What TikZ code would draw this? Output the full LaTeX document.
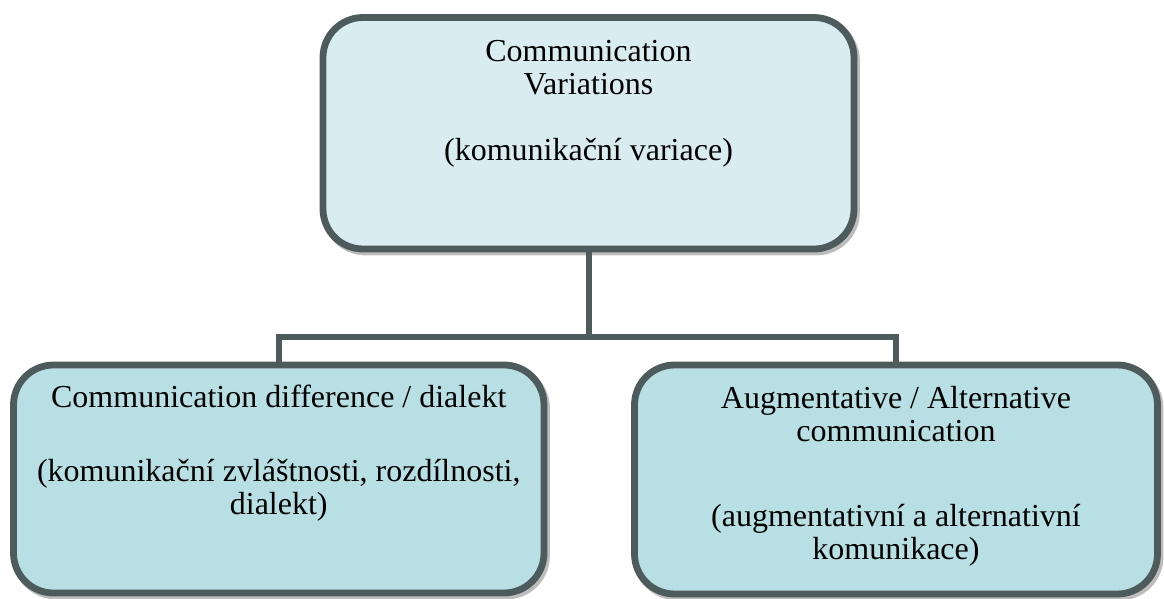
\documentclass[tikz,border=0pt]{standalone}
\usepackage{fontspec}
\setmainfont{Liberation Serif}
\definecolor{frame}{HTML}{4D5B5C}
\definecolor{topfill}{HTML}{D9EDF0}
\definecolor{subfill}{HTML}{B8DFE3}
\definecolor{shade}{HTML}{BDBDBD}
\begin{document}
\begin{tikzpicture}[x=0.5pt,y=-0.5pt,
    box/.style={draw=frame, line width=3.4pt, rounded corners=20pt, outer sep=0pt, inner sep=0pt},
    shadowbox/.style={draw=shade, fill=shade, line width=3.4pt, rounded corners=20pt, outer sep=0pt, inner sep=0pt},
    txt/.style={align=center, anchor=base, inner sep=0pt, font=\fontsize{16}{16.5}\selectfont},
    link/.style={draw=frame, line width=3pt}]
    \useasboundingbox (0,0) rectangle (1164,599);
    % shadows
    \node[shadowbox, minimum width=265.5pt, minimum height=115.75pt] (cvshadow) at (591,136.25) {};
    \node[shadowbox, minimum width=265.25pt, minimum height=114pt] (cdshadow) at (281.25,482) {};
    \node[shadowbox, minimum width=261.5pt, minimum height=114.5pt] (aacshadow) at (898.5,482.5) {};
    % boxes
    \node[box, fill=topfill, minimum width=265.5pt, minimum height=115.75pt] (cv) at (588.5,133.25) {};
    \node[box, fill=subfill, minimum width=265.25pt, minimum height=114pt] (cd) at (278.75,479) {};
    \node[box, fill=subfill, minimum width=261.5pt, minimum height=114.5pt] (aac) at (896,479.5) {};
    % connectors
    \coordinate (junction) at (588.5,337);
    \draw[link] (cv.south) -- (junction);
    \draw[link] (cd.north) |- (junction) -| (aac.north);
    % texts (base = last line)
    \node[txt] (cvtext) at ([yshift=-71.75pt]cv.north)
      {Communication\\ Variations\\[16.5pt] (komunikační variace)};
    \node[txt] (cdtext) at ([yshift=-74.5pt]cd.north)
      {Communication difference / dialekt\\[20.5pt] (komunikační zvláštnosti, rozdílnosti,\\ dialekt)};
    \node[txt] (aactext) at ([yshift=-97pt]aac.north)
      {Augmentative / Alternative\\ communication\\[26pt] (augmentativní a alternativní\\ komunikace)};
\end{tikzpicture}
\end{document}
